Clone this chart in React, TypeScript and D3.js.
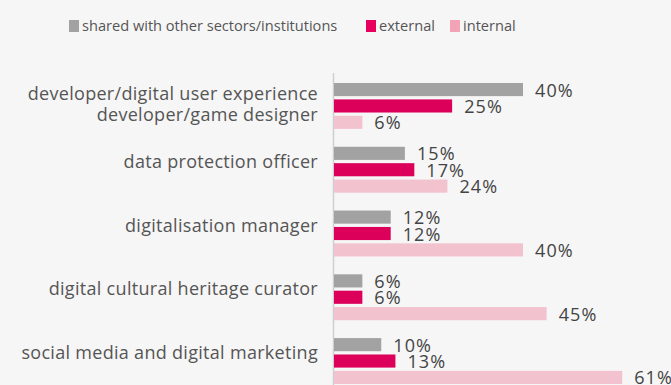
import React from 'react';
import * as d3 from 'd3';

const categories = [
  ['developer/digital user experience', 'developer/game designer'],
  ['data protection officer'],
  ['digitalisation manager'],
  ['digital cultural heritage curator'],
  ['social media and digital marketing'],
];

const seriesNames = ['shared with other sectors/institutions', 'external', 'internal'];
const shared = [40, 15, 12, 6, 10];
const external = [25, 17, 12, 6, 13];
const internal = [6, 24, 40, 45, 61];

const seriesValues = [shared, external, internal];
const barColors = ['#a2a2a2', '#dc005a', '#f2c2cf'];
const legendColors = ['#a2a2a2', '#e8005f', '#f3a3b6'];

const W = 671;
const H = 385;
const FONT = '"Open Sans", sans-serif';

const App = () => {
  const keys = categories.map((c, i) => String(i));

  const y = d3.scaleBand<string>().domain(keys).range([83, 384]).paddingInner(0.28);
  const ySub = d3
    .scaleBand<string>()
    .domain(seriesNames)
    .range([0, y.bandwidth()])
    .paddingInner(0.2);
  const x = d3.scaleLinear().domain([0, 70]).range([334, 334 + 4.725 * 70]);

  const legendX = [69, 366, 450];

  return (
    <div style={{ position: 'fixed', left: 0, top: 0 }}>
      <svg width={W} height={H} style={{ display: 'block', background: '#f6f6f6' }}>
        {/* legend */}
        {seriesNames.map((name, i) => (
          <g key={name} transform={`translate(${legendX[i]},20)`}>
            <rect width={10} height={12} fill={legendColors[i]} />
            <text x={13} y={11} fontFamily={FONT} fontSize={14.6} fill="#555">
              {name}
            </text>
          </g>
        ))}

        {/* axis line */}
        <line x1={x(0) - 0.5} x2={x(0) - 0.5} y1={73} y2={H} stroke="#cfcfcf" strokeWidth={1.5} />

        {categories.map((lines, gi) => {
          const top = y(String(gi)) as number;
          const center = top + y.bandwidth() / 2;
          const shift = lines.length === 1 ? -9 : -2;
          return (
            <g key={gi}>
              {lines.map((ln, li) => (
                <text
                  key={li}
                  x={318}
                  y={center + shift + (li - (lines.length - 1) / 2) * 21}
                  textAnchor="end"
                  dominantBaseline="central"
                  fontFamily={FONT}
                  fontSize={18}
                  letterSpacing={0.3}
                  fill="#555"
                >
                  {ln}
                </text>
              ))}
              {seriesNames.map((s, si) => {
                const v = seriesValues[si][gi];
                const by = top + (ySub(s) as number);
                return (
                  <g key={s}>
                    <rect
                      x={x(0)}
                      y={by}
                      width={x(v) - x(0)}
                      height={ySub.bandwidth()}
                      fill={barColors[si]}
                    />
                    <text
                      x={x(v) + 12}
                      y={by + ySub.bandwidth() / 2}
                      dominantBaseline="central"
                      fontFamily={FONT}
                      fontSize={18}
                      letterSpacing={1.1}
                      fill="#444"
                    >
                      {v}%
                    </text>
                  </g>
                );
              })}
            </g>
          );
        })}
      </svg>
    </div>
  );
};

export default App;
